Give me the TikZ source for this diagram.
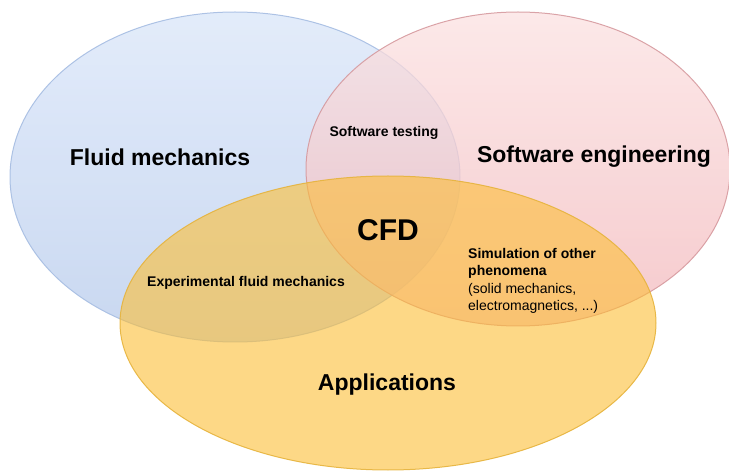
\documentclass[tikz,border=0pt]{standalone}
\usepackage{fontspec}
\setmainfont{Liberation Sans}
\usetikzlibrary{shapes.geometric}

\definecolor{bluetop}{HTML}{E0EAFA}
\definecolor{bluebot}{HTML}{C4D4EF}
\definecolor{blueline}{HTML}{A6BDE2}
\definecolor{pinktop}{HTML}{FBE1E1}
\definecolor{pinkbot}{HTML}{F2B8BC}
\definecolor{pinkline}{HTML}{D4959A}
\definecolor{yellowfill}{HTML}{FCBE35}
\definecolor{yellowline}{HTML}{E6B33C}

\tikzset{
  field/.style={ellipse, inner sep=0pt, line width=1pt},
  big/.style={font=\fontsize{23}{27}\selectfont\bfseries},
  small/.style={font=\fontsize{14}{17.4}\selectfont\bfseries},
}

\begin{document}
\begin{tikzpicture}[x=1pt, y=-1pt]
  \useasboundingbox (0,0) rectangle (729,473);

  % the three disciplines as overlapping fields
  \node[field, minimum width=450pt, minimum height=330pt,
        top color=bluetop, bottom color=bluebot, draw=blueline,
        fill opacity=0.92, draw opacity=0.9] (fluid) at (235,177) {};
  \node[field, minimum width=424pt, minimum height=314pt,
        top color=pinktop, bottom color=pinkbot, draw=pinkline,
        fill opacity=0.75, draw opacity=0.85] (soft) at (518,169) {};
  \node[field, minimum width=536pt, minimum height=294pt,
        fill=yellowfill, draw=yellowline,
        fill opacity=0.6, draw opacity=0.9] (app) at (388,323) {};

  % labels
  \node[big] (lfluid) at (160,157) {Fluid mechanics};
  \node[big] (lsoft) at (594,157) {Software engineering};
  \node[big] (lapp) at (387,385) {Applications};
  \node[font=\fontsize{30}{34}\selectfont\bfseries] (lcfd) at (388,230) {CFD};
  \node[small] (ltest) at (384,133) {Software testing};
  \node[small] (lexp) at (246,283) {Experimental fluid mechanics};
  \node[align=left, anchor=north west, inner sep=0pt,
        font=\fontsize{14}{17.4}\selectfont] (lsim) at (468,248)
    {\textbf{Simulation of other}\\ \textbf{phenomena}\\ (solid mechanics,\\ electromagnetics, ...)};
\end{tikzpicture}
\end{document}
